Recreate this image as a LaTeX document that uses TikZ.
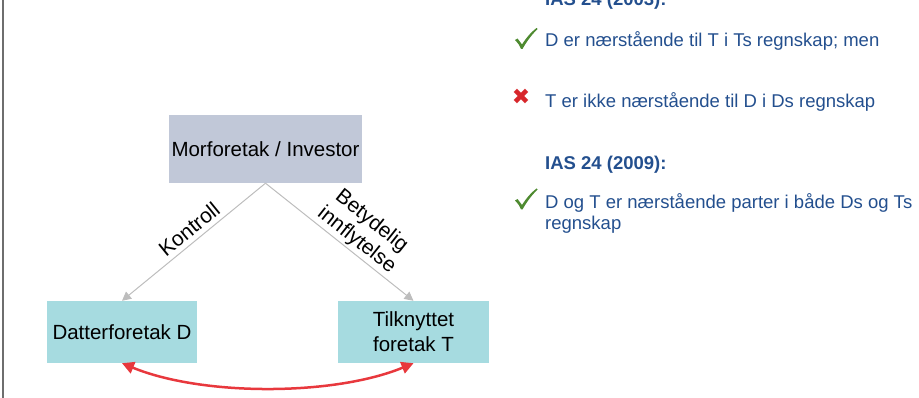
\documentclass[tikz,border=0pt]{standalone}
\usepackage{fontspec}
\setmainfont{Liberation Sans}
\newfontfamily\symfont{DejaVu Sans}
\usetikzlibrary{arrows.meta,calc}
\definecolor{txtblue}{HTML}{234F8E}
\definecolor{morfill}{HTML}{C1C8D8}
\definecolor{subfill}{HTML}{A6DBE0}
\definecolor{greyline}{HTML}{BDBDBD}
\definecolor{arrowred}{HTML}{E8383D}
\definecolor{okgreen}{HTML}{4E8A30}
\definecolor{nored}{HTML}{D7262B}
\definecolor{framegrey}{HTML}{6E6E6E}
\tikzset{
  entity/.style={draw=none, inner sep=0pt, align=center, text=black,
    font=\fontsize{20.5}{25}\selectfont},
  relline/.style={draw=greyline, line width=1pt, -{Triangle[length=9pt,width=9pt]}},
  rellabel/.style={inner sep=0pt, align=center, text=black,
    font=\fontsize{21}{24}\selectfont},
  bothway/.style={draw=arrowred, line width=2.5pt,
    {Triangle[length=12pt,width=12pt]}-{Triangle[length=12pt,width=12pt]}},
  bodytext/.style={anchor=base west, inner sep=0pt, text=txtblue,
    font=\fontsize{18.5}{21}\selectfont},
  headtext/.style={bodytext, font=\fontsize{18.5}{21}\selectfont\bfseries},
  nomark/.style={inner sep=0pt, text=nored, font=\symfont\fontsize{22}{22}\selectfont},
  okmark/.pic={\fill[okgreen] (-11,1.5) -- (-8.5,0) .. controls (-6,2.5) .. (-4,6)
      .. controls (1,-2) and (6,-7) .. (10.5,-10.5) -- (11.5,-9.5)
      .. controls (5,-3) and (0,4) .. (-3.5,10.5) -- (-5,10.5)
      .. controls (-7,6) .. (-11,1.5) -- cycle;},
}
\begin{document}
\begin{tikzpicture}[x=1pt,y=-1pt]
\useasboundingbox (0,0) rectangle (919,398);
% left frame line
\draw[framegrey, line width=2pt] (2.5,0) -- (2.5,398);

% diagram
\node[entity, fill=morfill, minimum width=193pt, minimum height=68pt] (mor) at (265.5,149) {Morforetak / Investor};
\node[entity, fill=subfill, minimum width=150pt, minimum height=62pt] (dat) at (122,332) {Datterforetak D};
\node[entity, fill=subfill, minimum width=151pt, minimum height=62pt] (til) at (413.5,332) {Tilknyttet\\foretak T};

\draw[relline] (mor.south) -- (dat.north);
\draw[relline] (mor.south) -- (til.north);
\node[rellabel, rotate=39] (kon) at (189,229) {Kontroll};
\node[rellabel, rotate=-38.5] (bet) at (364,231) {Betydelig\\innflytelse};

\draw[bothway] (dat.south) .. controls +(80,33) and +(-80,33) .. (til.south);

% right-hand text
\node[headtext] (h1) at (545,6) {IAS 24 (2003):};
\pic at (526,38.5) {okmark};
\node[bodytext] (t1) at (545,47) {D er nærstående til T i Ts regnskap; men};
\node[nomark] (x1) at (521,96.5) {✖};
\node[bodytext] (t2) at (545,108) {T er ikke nærstående til D i Ds regnskap};
\node[headtext] (h2) at (545,170) {IAS 24 (2009):};
\pic at (526,199) {okmark};
\node[bodytext] (t3) at (545,209) {D og T er nærstående parter i både Ds og Ts};
\node[bodytext] (t4) at (545,230) {regnskap};
\end{tikzpicture}
\end{document}
